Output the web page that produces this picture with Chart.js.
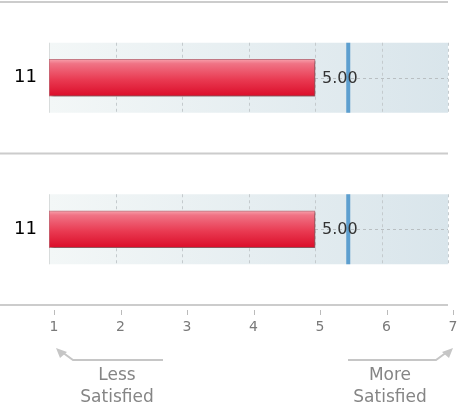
<!DOCTYPE html>
<html>
<head>
<meta charset="utf-8">
<script src="https://cdn.jsdelivr.net/npm/chart.js@4/dist/chart.umd.min.js"></script>
<style>
  html, body { margin: 0; padding: 0; background: #fff; }
  canvas { display: block; }
</style>
</head>
<body>
<canvas id="c" width="466" height="409"></canvas>
<script>
// data
const categories = ['11', '11'];
const scores = [5.00, 5.00];
const benchmark = [5.5, 5.5];
const tickValues = [1, 2, 3, 4, 5, 6, 7];
const scaleMin = 1;
const scaleMax = 7;
const lowLabel = ['Less', 'Satisfied'];
const highLabel = ['More', 'Satisfied'];

const FONT = 'DejaVu Sans';

function barFill(context) {
    var chart = context.chart;
    if (!chart.chartArea) return '#e8304a';
    var yc = chart.scales.y.getPixelForValue(context.dataIndex);
    var g = chart.ctx.createLinearGradient(0, yc - 18.5, 0, yc + 18.5);
    g.addColorStop(0, '#f7a0ab');
    g.addColorStop(0.12, '#f07385');
    g.addColorStop(0.55, '#e93a52');
    g.addColorStop(1, '#db0d29');
    return g;
}

// panel boxes, grid, separators, benchmark line, value labels
const panels = {
    id: 'panels',
    beforeDatasetsDraw(chart) {
        var ctx = chart.ctx, a = chart.chartArea;
        var x = chart.scales.x, y = chart.scales.y;
        var band = (a.bottom - a.top) / categories.length;

        ctx.save();
        // separator lines
        ctx.strokeStyle = '#cccccc';
        ctx.lineWidth = 2;
        for (var i = 0; i <= categories.length; i++) {
            var ly = a.top + band * i;
            ctx.beginPath();
            ctx.moveTo(0, ly);
            ctx.lineTo(a.right, ly);
            ctx.stroke();
        }
        categories.forEach(function (c, i) {
            var yc = y.getPixelForValue(i);
            var top = yc - 35, h = 70;
            var g = ctx.createLinearGradient(a.left, 0, a.right, 0);
            g.addColorStop(0, '#f3f7f7');
            g.addColorStop(1, '#d9e5eb');
            ctx.fillStyle = g;
            ctx.fillRect(a.left, top, a.right - a.left, h);

            // vertical grid
            ctx.lineWidth = 1;
            tickValues.forEach(function (v) {
                var gx = Math.round(x.getPixelForValue(v)) + 0.5;
                ctx.strokeStyle = v === scaleMin ? '#d8dcdc' : '#c4cacd';
                ctx.setLineDash(v === scaleMin ? [] : [3, 3]);
                ctx.beginPath();
                ctx.moveTo(gx, top);
                ctx.lineTo(gx, top + h);
                ctx.stroke();
            });
            // horizontal dashed line from bar end
            ctx.strokeStyle = '#b9bfc2';
            ctx.setLineDash([3, 3]);
            ctx.beginPath();
            ctx.moveTo(x.getPixelForValue(scores[i]), Math.round(yc) + 0.5);
            ctx.lineTo(a.right, Math.round(yc) + 0.5);
            ctx.stroke();
            ctx.setLineDash([]);
        });
        ctx.restore();

        // shadow for bars
        ctx.save();
        ctx.shadowColor = 'rgba(60,30,30,0.55)';
        ctx.shadowOffsetX = 2;
        ctx.shadowOffsetY = 2;
        ctx.shadowBlur = 3;
    },
    afterDatasetsDraw(chart) {
        var ctx = chart.ctx;
        ctx.restore();
        var x = chart.scales.x, y = chart.scales.y;

        ctx.save();
        categories.forEach(function (c, i) {
            var yc = y.getPixelForValue(i);
            // benchmark
            ctx.fillStyle = '#5d9fcf';
            ctx.fillRect(x.getPixelForValue(benchmark[i]) - 2, yc - 35, 4, 70);
            // value label
            ctx.fillStyle = '#333333';
            ctx.font = '16px "' + FONT + '"';
            ctx.textAlign = 'left';
            ctx.textBaseline = 'middle';
            ctx.fillText(scores[i].toFixed(2), x.getPixelForValue(scores[i]) + 7, yc + 1);
        });
        ctx.restore();
    },
    afterDraw(chart) {
        var ctx = chart.ctx, a = chart.chartArea;
        var x = chart.scales.x;
        ctx.save();
        // tick marks under labels
        ctx.strokeStyle = '#bbbbbb';
        ctx.lineWidth = 1;
        x.ticks.forEach(function (t) {
            var tx = Math.round(x.getPixelForValue(t.value)) + 5.5;
            ctx.beginPath();
            ctx.moveTo(tx, a.bottom + 5);
            ctx.lineTo(tx, a.bottom + 10);
            ctx.stroke();
        });

        // arrows
        ctx.strokeStyle = '#c6c6c6';
        ctx.fillStyle = '#c6c6c6';
        ctx.lineWidth = 2;
        function arrow(x0, x1, tipX, dir) {
            var ly = a.bottom + 55;
            ctx.beginPath();
            ctx.moveTo(x0, ly);
            ctx.lineTo(x1, ly);
            ctx.lineTo(tipX - dir * 6, ly - 8);
            ctx.stroke();
            ctx.beginPath();
            ctx.moveTo(tipX, ly - 12);
            ctx.lineTo(tipX - dir * 4, ly - 2);
            ctx.lineTo(tipX - dir * 11, ly - 8);
            ctx.closePath();
            ctx.fill();
        }
        arrow(163, 73, 56, -1);
        arrow(348, 436, 453, 1);

        ctx.fillStyle = '#858585';
        ctx.font = '17px "' + FONT + '"';
        ctx.textAlign = 'center';
        ctx.textBaseline = 'middle';
        ctx.fillText(lowLabel[0], 117, a.bottom + 71);
        ctx.fillText(lowLabel[1], 117, a.bottom + 93);
        ctx.fillText(highLabel[0], 390, a.bottom + 71);
        ctx.fillText(highLabel[1], 390, a.bottom + 93);
        ctx.restore();
    }
};

new Chart(document.getElementById('c'), {
    type: 'bar',
    data: {
        labels: categories,
        datasets: [{
            data: scores,
            base: scaleMin,
            barThickness: 37,
            backgroundColor: barFill,
            borderColor: 'rgba(170,30,50,0.55)',
            borderWidth: 1,
            borderSkipped: false
        }]
    },
    options: {
        indexAxis: 'y',
        responsive: false,
        animation: false,
        layout: { padding: { top: 2, right: 18, bottom: 0, left: 0 } },
        plugins: {
            legend: { display: false },
            tooltip: { enabled: false }
        },
        scales: {
            x: {
                type: 'linear',
                min: scaleMin,
                max: scaleMax,
                afterBuildTicks(s) { s.ticks = tickValues.map(function (v) { return { value: v }; }); },
                afterFit(s) { s.height = 104; },
                grid: { display: false, drawTicks: true, tickLength: 9 },
                border: { display: false },
                ticks: {
                    autoSkip: false,
                    maxRotation: 0,
                    labelOffset: 5,
                    padding: 5,
                    color: '#7a7a7a',
                    font: { family: FONT, size: 14 }
                }
            },
            y: {
                type: 'category',
                afterFit(s) { s.width = 49; s.paddingTop = 0; s.paddingBottom = 0; },
                grid: { display: false, drawTicks: false },
                border: { display: false },
                ticks: {
                    padding: 12,
                    color: '#000000',
                    font: { family: FONT, size: 18 }
                }
            }
        }
    },
    plugins: [panels]
});
</script>
</body>
</html>
